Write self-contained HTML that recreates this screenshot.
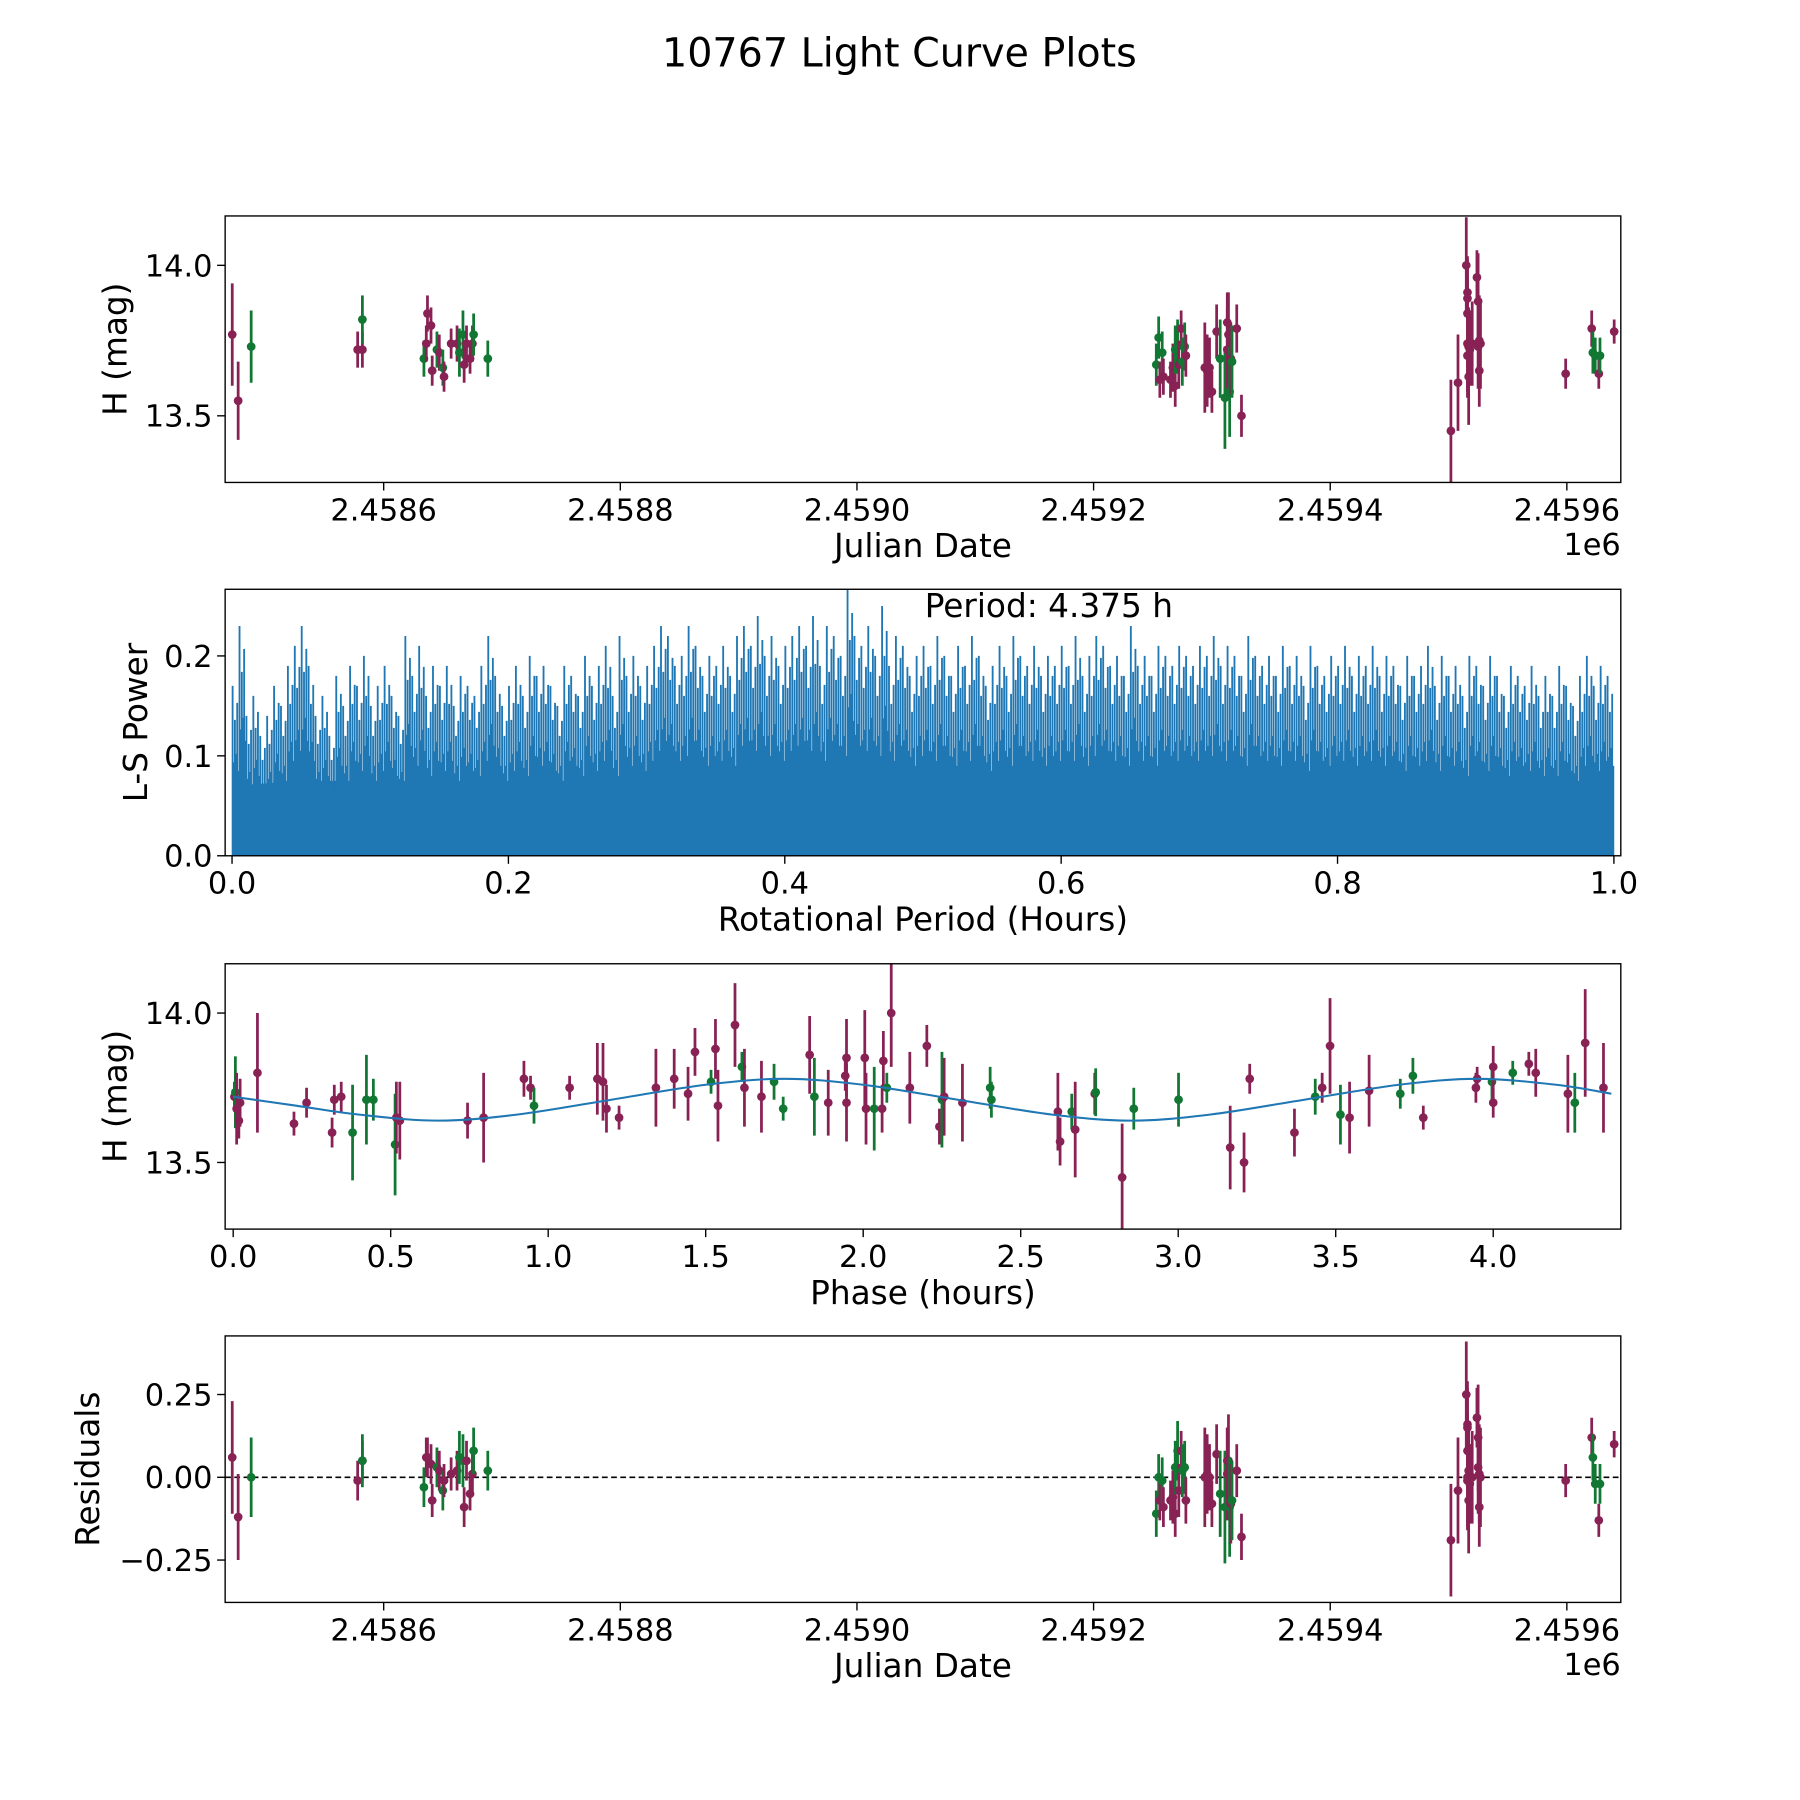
<!DOCTYPE html>
<html><head><meta charset="utf-8"><title>10767 Light Curve Plots</title>
<style>html,body{margin:0;padding:0;background:#fff}svg{display:block}text{font-family:"DejaVu Sans","Liberation Sans",sans-serif;fill:#000}</style>
</head><body>
<svg id="fig" xmlns="http://www.w3.org/2000/svg" width="1800" height="1800" viewBox="0 0 1567 1567">
<rect width="1567" height="1567" fill="#fff"/>
<text x="783" y="58" font-size="34.5" text-anchor="middle">10767 Light Curve Plots</text>
</svg>
<script>
// ---- Panel 1 / 4 observation data ----
const obsJD = [2458472,2458477,2458488,2458578,2458582,2458582,2458634,2458636,2458637,2458640,2458641,2458645,2458647,2458650,2458651,2458657,2458662,2458664,2458667,2458668,2458670,2458673,2458675,2458676,2458688,
2459253,2459255,2459256,2459258,2459259,2459265,2459267,2459269,2459269,2459271,2459272,2459274,2459275,2459277,2459278,2459294,2459296,2459298,2459300,2459304,2459307,2459311,2459313,2459313,2459314,2459315,2459316,2459317,2459321,2459325,
2459502,2459508,2459515,2459516,2459516,2459516,2459516,2459516,2459517,2459517,2459518,2459520,2459524,2459525,2459525,2459526,2459526,2459527,
2459599,2459621,2459622,2459624,2459627,2459628,2459640];
const obsMag = [13.77,13.55,13.73,13.72,13.72,13.82,13.69,13.74,13.84,13.80,13.65,13.72,13.71,13.66,13.63,13.74,13.74,13.71,13.77,13.67,13.74,13.69,13.74,13.77,13.69,
13.67,13.76,13.62,13.71,13.63,13.62,13.66,13.60,13.72,13.73,13.67,13.79,13.68,13.73,13.70,13.66,13.65,13.66,13.58,13.78,13.69,13.56,13.72,13.81,13.77,13.58,13.69,13.68,13.79,13.50,
13.45,13.61,14.00,13.89,13.91,13.84,13.74,13.70,13.73,13.63,13.72,13.74,13.96,13.88,13.73,13.75,13.65,13.74,
13.64,13.79,13.71,13.70,13.64,13.70,13.78];
const obsErr = [0.17,0.13,0.12,0.06,0.06,0.08,0.06,0.06,0.06,0.06,0.05,0.06,0.06,0.06,0.05,0.05,0.06,0.08,0.08,0.06,0.06,0.05,0.06,0.07,0.06,
0.07,0.07,0.06,0.07,0.06,0.06,0.08,0.07,0.08,0.09,0.08,0.06,0.08,0.08,0.07,0.15,0.12,0.10,0.07,0.09,0.13,0.17,0.14,0.10,0.14,0.15,0.12,0.12,0.08,0.07,
0.17,0.16,0.16,0.13,0.12,0.12,0.16,0.14,0.13,0.16,0.12,0.14,0.09,0.16,0.14,0.15,0.12,0.15,
0.05,0.06,0.07,0.06,0.05,0.06,0.04];
const obsBand = ['m','m','g','m','m','g','g','m','m','m','m','g','m','g','m','m','m','g','g','m','m','m','m','g','g',
'g','g','m','g','m','m','m','m','g','g','m','m','g','g','m','m','m','m','m','m','g','g','m','m','m','g','m','g','m','m',
'm','m','m','m','m','m','m','m','m','m','m','m','m','m','m','m','m','m',
'm','m','g','g','m','g','m'];
const obsResid = [0.06,-0.12,0,-0.01,0.05,0.05,-0.03,0.06,0.06,0.04,-0.07,0.03,0.02,-0.04,-0.01,0.01,0.02,0.06,0.05,-0.09,0.05,-0.05,0.01,0.08,0.02,
-0.11,0,-0.07,-0.01,-0.09,-0.07,-0.06,-0.11,0.03,0.08,-0.04,0.08,0.02,0.03,-0.07,0,0.01,0,-0.08,0.07,-0.05,-0.09,0.01,0.05,0.05,-0.09,-0.08,-0.07,0.02,-0.18,
-0.19,-0.04,0.25,0.16,0.15,0.08,0,-0.01,0.02,-0.07,-0.02,0,0.18,0.12,0.03,0.01,-0.09,0,
-0.01,0.12,0.06,-0.02,-0.13,-0.02,0.1];
// ---- Phase-folded data ----
const phaseVals = [0.004,0.007,0.011,0.018,0.022,0.077,0.193,0.233,0.314,0.321,0.343,0.379,0.423,0.445,0.514,0.518,0.529,0.744,0.795,0.923,0.944,0.955,1.068,1.156,1.174,1.185,1.225,1.342,1.400,1.444,1.466,1.517,1.531,1.539,1.593,1.615,1.623,1.677,1.717,1.746,1.830,1.845,1.889,1.943,1.947,1.947,2.005,2.009,2.035,2.060,2.064,2.075,2.089,2.148,2.202,2.242,2.250,2.257,2.315,2.403,2.407,2.618,2.625,2.662,2.673,2.735,2.738,2.859,2.822,3.001,3.165,3.209,3.227,3.369,3.435,3.457,3.482,3.515,3.544,3.606,3.705,3.745,3.778,3.945,3.949,3.996,4.000,4.000,4.062,4.113,4.135,4.237,4.259,4.292,4.350];
const phaseMag = [13.72,13.735,13.68,13.64,13.70,13.80,13.63,13.70,13.60,13.71,13.72,13.60,13.71,13.71,13.56,13.65,13.64,13.64,13.65,13.78,13.75,13.69,13.75,13.78,13.77,13.68,13.65,13.75,13.78,13.73,13.87,13.77,13.88,13.69,13.96,13.82,13.75,13.72,13.77,13.68,13.86,13.72,13.70,13.79,13.85,13.70,13.85,13.68,13.68,13.68,13.84,13.75,14.00,13.75,13.89,13.62,13.71,13.72,13.70,13.75,13.71,13.67,13.57,13.67,13.61,13.73,13.735,13.68,13.45,13.71,13.55,13.50,13.78,13.60,13.72,13.75,13.89,13.66,13.65,13.74,13.73,13.79,13.65,13.75,13.78,13.77,13.82,13.70,13.80,13.83,13.80,13.73,13.70,13.90,13.75];
const phaseErr = [0.05,0.12,0.12,0.06,0.08,0.2,0.04,0.05,0.05,0.05,0.05,0.16,0.15,0.07,0.17,0.12,0.13,0.06,0.15,0.06,0.04,0.06,0.04,0.12,0.13,0.08,0.04,0.13,0.1,0.09,0.08,0.04,0.1,0.12,0.14,0.05,0.13,0.12,0.06,0.04,0.13,0.13,0.11,0.05,0.13,0.13,0.16,0.12,0.14,0.08,0.1,0.05,0.18,0.12,0.07,0.06,0.16,0.13,0.13,0.07,0.06,0.13,0.08,0.06,0.16,0.07,0.08,0.07,0.18,0.09,0.14,0.1,0.05,0.08,0.06,0.05,0.16,0.1,0.12,0.12,0.05,0.06,0.04,0.05,0.04,0.06,0.07,0.05,0.04,0.04,0.08,0.13,0.1,0.18,0.15];
const phaseBand = ['m','g','m','m','m','m','m','m','m','m','m','g','g','g','g','m','m','m','m','m','m','g','m','m','m','m','m','m','m','m','m','g','m','m','m','g','m','m','g','g','m','g','m','m','m','m','m','m','g','m','m','g','m','m','m','m','g','m','m','g','g','m','m','g','m','m','g','g','m','g','m','m','m','m','g','m','m','g','m','m','g','g','m','m','m','g','m','m','g','m','m','m','g','m','m'];
// ---- Model curve (hours, mag) ----
const modelPhase = [0,0.2,0.4,0.65,0.9,1.2,1.5,1.75,2.0,2.3,2.6,2.85,3.1,3.4,3.7,3.95,4.2,4.375];
const modelMag = [13.72,13.69,13.66,13.64,13.66,13.71,13.76,13.78,13.76,13.71,13.66,13.64,13.66,13.71,13.76,13.78,13.76,13.73];
// ---- Periodogram ----
const lsPeaks = [.17,.23,.14,.16,.12,.14,.17,.15,.19,.21,.23,.19,.14,.16,.12,.18,.15,.19,.17,.20,.15,.17,.19,.16,.14,.22,.18,.21,.16,.19,.17,.19,.15,.18,.17,.16,.19,.22,.18,.15,.17,.19,.16,.20,.18,.19,.17,.15,.19,.18,.16,.20,.17,.19,.21,.16,.22,.18,.20,.17,.19,.21,.23,.22,.19,.20,.23,.21,.18,.20,.19,.21,.18,.22,.23,.21,.24,.20,.22,.19,.21,.22,.23,.21,.24,.19,.23,.22,.20,.27,.22,.21,.23,.20,.25,.19,.22,.21,.18,.20,.21,.19,.22,.20,.18,.21,.19,.22,.20,.17,.19,.21,.18,.22,.20,.19,.21,.18,.20,.19,.21,.19,.22,.18,.20,.22,.21,.19,.20,.18,.23,.19,.20,.18,.21,.20,.19,.21,.20,.19,.21,.20,.22,.19,.21,.20,.18,.22,.20,.19,.20,.18,.21,.19,.20,.17,.21,.19,.18,.20,.19,.21,.18,.20,.19,.21,.18,.20,.19,.17,.20,.18,.19,.21,.17,.20,.18,.19,.16,.20,.19,.17,.20,.18,.16,.19,.18,.17,.19,.16,.18,.16,.19,.17,.15,.18,.20,.17,.19,.18];
const lsBasePeriod = [0,0.05,0.1,0.15,0.2,0.25,0.3,0.35,0.4,0.45,0.5,0.55,0.6,0.65,0.7,0.75,0.8,0.85,0.9,0.95,1.0];
const lsBase = [.07,.075,.075,.075,.075,.075,.08,.08,.085,.085,.08,.08,.08,.08,.08,.075,.075,.075,.075,.07,.07];
const periodText = 'Period: 4.375 h';
// ---- Ticks ----
const jdTicks = [2458600,2458800,2459000,2459200,2459400,2459600];
const jdTickLabels = ['2.4586','2.4588','2.4590','2.4592','2.4594','2.4596'];
const magTicks = [13.5,14.0];
const magTickLabels = ['13.5','14.0'];
const lsXTicks = [0,0.2,0.4,0.6,0.8,1.0];
const lsXTickLabels = ['0.0','0.2','0.4','0.6','0.8','1.0'];
const lsYTicks = [0,0.1,0.2];
const lsYTickLabels = ['0.0','0.1','0.2'];
const phTicks = [0,0.5,1,1.5,2,2.5,3,3.5,4];
const phTickLabels = ['0.0','0.5','1.0','1.5','2.0','2.5','3.0','3.5','4.0'];
const resTicks = [-0.25,0,0.25];
const resTickLabels = ['\u22120.25','0.00','0.25'];

const NS='http://www.w3.org/2000/svg';
const svg=document.getElementById('fig');
const COL={m:'#882255',g:'#117733'};
const TF=26.5, LF=28.5;
function mk(tag,attrs,parent){const e=document.createElementNS(NS,tag);for(const k in attrs)e.setAttribute(k,attrs[k]);(parent||svg).appendChild(e);return e;}
function axis(x0,x1,y0,y1,xmin,xmax,ymin,ymax){return {x0,x1,y0,y1,sx:v=>x0+(v-xmin)/(xmax-xmin)*(x1-x0),sy:v=>y1-(v-ymin)/(ymax-ymin)*(y1-y0)};}
function frame(a,name,xt,xl,yt,yl,xlabel,ylabel,ylx){
  const g=mk('g',{});
  
  
  xt.forEach((v,i)=>{const x=a.sx(v);
    mk('line',{x1:x,x2:x,y1:a.y1,y2:a.y1+7,stroke:'#000','stroke-width':1.2},g);
    const t=mk('text',{x:x,y:a.y1+33,'font-size':TF,'text-anchor':'middle'},g);t.textContent=xl[i];
    
    });
  yt.forEach((v,i)=>{const y=a.sy(v);
    mk('line',{x1:a.x0-7,x2:a.x0,y1:y,y2:y,stroke:'#000','stroke-width':1.2},g);
    const t=mk('text',{x:a.x0-11,y:y+9.5,'font-size':TF,'text-anchor':'end'},g);t.textContent=yl[i];
    
    });
  const xlab=mk('text',{x:(a.x0+a.x1)/2,y:a.y1+65,'font-size':LF,'text-anchor':'middle'},g);xlab.textContent=xlabel;
  
  
  const cy=(a.y0+a.y1)/2;
  const ylab=mk('text',{x:ylx,y:cy,'font-size':LF,'text-anchor':'middle',transform:`rotate(-90 ${ylx} ${cy})`},g);ylab.textContent=ylabel;
  
  
  return g;
}
function border(a){const r=mk('rect',{x:a.x0,y:a.y0,width:a.x1-a.x0,height:a.y1-a.y0,fill:'none',stroke:'#000','stroke-width':1.2});
  
  }
function clipFor(a,id){const c=mk('clipPath',{id:id});mk('rect',{x:a.x0,y:a.y0,width:a.x1-a.x0,height:a.y1-a.y0},c);return `url(#${id})`;}
function errPoints(a,xs,ys,es,bands,name,cid){
  const g=mk('g',{'clip-path':clipFor(a,cid)});
  
  
  xs.forEach((xv,i)=>{const x=a.sx(xv),c=COL[bands[i]];
    mk('line',{x1:x,x2:x,y1:a.sy(ys[i]-es[i]),y2:a.sy(ys[i]+es[i]),stroke:c,'stroke-width':2.4},g);
    const p=mk('circle',{cx:x,cy:a.sy(ys[i]),r:3.8,fill:c},g);
    
    });
}
// Panel 1
const A1=axis(196,1411,188,420,2458466,2459645.6,13.2786,14.1641);
frame(A1,'light-curve-axes',jdTicks,jdTickLabels,magTicks,magTickLabels,'Julian Date','H (mag)',110);
errPoints(A1,obsJD,obsMag,obsErr,obsBand,'light-curve-points','c1');
border(A1);
const o1=mk('text',{x:1411,y:483,'font-size':TF,'text-anchor':'end'});o1.textContent='1e6';


// Panel 2
const A2=axis(196,1411,513,745,-0.00499,1.00499,0,0.2667);
frame(A2,'periodogram-axes',lsXTicks,lsXTickLabels,lsYTicks,lsYTickLabels,'Rotational Period (Hours)','L-S Power',128);
const pg=mk('g',{'clip-path':clipFor(A2,'c2')});


let bp=`M${A2.sx(lsBasePeriod[0])},${A2.sy(0)}`;
lsBasePeriod.forEach((p,i)=>{bp+=` L${A2.sx(p)},${A2.sy(lsBase[i])}`;});
bp+=` L${A2.sx(lsBasePeriod[lsBasePeriod.length-1])},${A2.sy(0)} Z`;
mk('path',{d:bp,fill:'#1f77b4'},pg);
const subF=[1,0.55,0.8,0.6,0.9,0.5];
let sp='';
lsPeaks.forEach((v,i)=>{const p0=i*0.005;
  subF.forEach((f,k)=>{const x=A2.sx(p0+(k+0.5)*0.005/subF.length);sp+=`M${x},${A2.sy(0)} V${A2.sy(v*f)} `;});});
mk('path',{d:sp,stroke:'#1f77b4','stroke-width':1.6,fill:'none'},pg);
border(A2);
const pt=mk('text',{x:805,y:537,'font-size':LF});pt.textContent=periodText;


// Panel 3
const A3=axis(196,1411,839,1070,-0.0255,4.405,13.277,14.165);
frame(A3,'phase-axes',phTicks,phTickLabels,magTicks,magTickLabels,'Phase (hours)','H (mag)',110);
errPoints(A3,phaseVals,phaseMag,phaseErr,phaseBand,'phase-points','c3');
const mp=modelPhase.map((p,i)=>[A3.sx(p),A3.sy(modelMag[i])]);
let md=`M${mp[0][0]},${mp[0][1]}`;
for(let i=0;i<mp.length-1;i++){const p0=mp[Math.max(i-1,0)],p1=mp[i],p2=mp[i+1],p3=mp[Math.min(i+2,mp.length-1)];
  md+=` C${p1[0]+(p2[0]-p0[0])/6},${p1[1]+(p2[1]-p0[1])/6} ${p2[0]-(p3[0]-p1[0])/6},${p2[1]-(p3[1]-p1[1])/6} ${p2[0]},${p2[1]}`;}
const ml=mk('path',{d:md,stroke:'#1f77b4','stroke-width':1.8,fill:'none'});


border(A3);
// Panel 4
const A4=axis(196,1411,1163,1395,2458466,2459645.6,-0.378,0.427);
frame(A4,'residuals-axes',jdTicks,jdTickLabels,resTicks,resTickLabels,'Julian Date','Residuals',86);
const zl=mk('line',{x1:A4.x0,x2:A4.x1,y1:A4.sy(0),y2:A4.sy(0),stroke:'#000','stroke-width':1.4,'stroke-dasharray':'5,3'});


errPoints(A4,obsJD,obsResid,obsErr,obsBand,'residual-points','c4');
border(A4);
const o4=mk('text',{x:1411,y:1458,'font-size':TF,'text-anchor':'end'});o4.textContent='1e6';


</script>
</body></html>
